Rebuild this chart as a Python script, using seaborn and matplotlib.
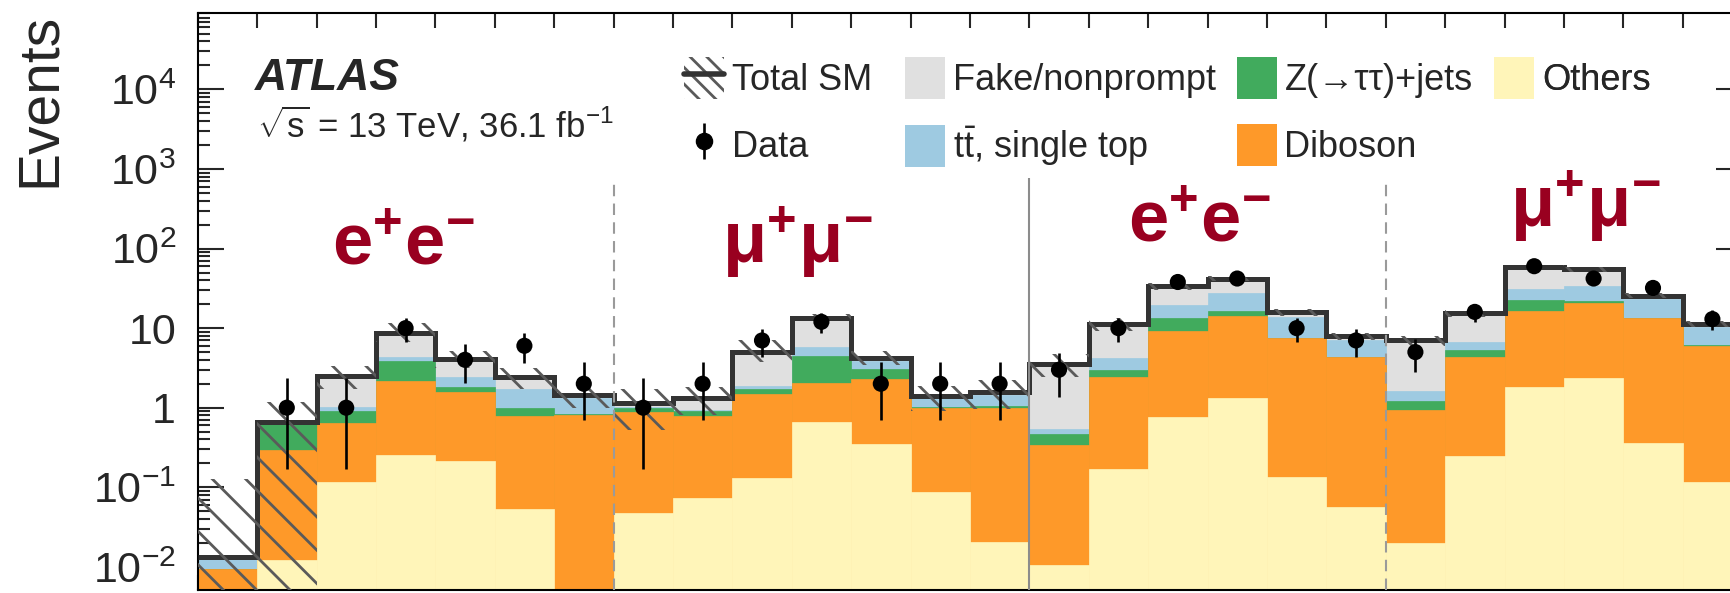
import numpy as np
import pandas as pd
import matplotlib
matplotlib.use("Agg")
import matplotlib.pyplot as plt
import seaborn as sns
from matplotlib.patches import Patch
from matplotlib.lines import Line2D
from matplotlib.legend_handler import HandlerTuple, HandlerLine2D
from matplotlib.transforms import blended_transform_factory

# ---------------------------------------------------------------- data ----
# 26 signal-region bins: e+e- (7) | mu+mu- (7) | e+e- (6) | mu+mu- (6)
others = [0.002, 0.0122, 0.1175, 0.254, 0.214, 0.0527, 0.002,
          0.047, 0.0725, 0.131, 0.654, 0.353, 0.087, 0.0205,
          0.0107, 0.17, 0.756, 1.31, 0.136, 0.057,
          0.0197, 0.247, 1.84, 2.36, 0.356, 0.117]
diboson = [0.0073, 0.282, 0.5185, 1.906, 1.376, 0.737, 0.808,
           0.843, 0.7175, 1.359, 1.376, 1.917, 0.893, 0.9795,
           0.3293, 2.28, 8.444, 12.89, 7.364, 4.233,
           0.9153, 4.133, 14.66, 18.14, 12.944, 5.883]
ztautau = [0.0, 0.351, 0.281, 1.70, 0.21, 0.19, 0.02,
           0.10, 0.13, 0.23, 2.42, 0.77, 0.04, 0.04,
           0.127, 0.53, 4.1, 2.4, 0.1, 0.03,
           0.275, 0.93, 6.1, 1.3, 0.1, 0.05]
top = [0.0031, 0.015, 0.103, 0.43, 0.65, 0.72, 0.50,
       0.04, 0.01, 0.17, 1.29, 0.78, 0.29, 0.40,
       0.073, 1.20, 6.2, 10.8, 6.3, 2.76,
       0.41, 1.44, 8.2, 12.0, 9.7, 4.15]
fake = [0.001, 0.01, 1.46, 4.31, 1.64, 0.72, 0.11,
        0.10, 0.38, 3.19, 7.56, 0.38, 0.09, 0.13,
        3.01, 7.12, 14.0, 14.4, 2.0, 0.82,
        5.38, 8.55, 27.2, 21.0, 2.5, 1.1]
# total SM uncertainty, upward and downward
sm_unc_up = [0.115, 0.52, 0.85, 3.0, 1.0, 0.75, 0.45,
             0.6, 0.5, 2.0, 1.8, 0.96, 0.5, 0.65,
             1.2, 2.1, 3.2, 3.2, 1.5, 0.9,
             1.0, 1.5, 4.0, 3.5, 2.0, 1.1]
sm_unc_dn = [0.0134, 0.67, 0.75, 2.0, 0.9, 0.7, 0.45,
             0.6, 0.5, 1.3, 1.8, 0.76, 0.5, 0.6,
             1.1, 2.1, 3.0, 3.0, 1.5, 0.9,
             1.0, 1.5, 4.0, 3.5, 2.0, 1.1]

data_n = [np.nan, 1, 1, 10, 4, 6, 2,
          1, 2, 7, 12, 2, 2, 2,
          3, 10, 38, 42, 10, 7,
          5, 16, 60, 42, 32, 13]
data_err_lo = [np.nan, 0.83, 0.83, 3.24, 1.94, 2.32, 1.29,
               0.83, 1.29, 2.62, 3.40, 1.29, 1.29, 1.29,
               1.63, 3.24, 6.1, 6.4, 3.24, 2.62,
               2.16, 3.9, 7.7, 6.4, 5.6, 3.5]
data_err_hi = [np.nan, 1.34, 1.34, 3.30, 2.31, 2.60, 1.74,
               1.34, 1.74, 2.67, 3.40, 1.74, 1.74, 1.74,
               1.91, 3.30, 6.5, 6.8, 3.30, 2.67,
               2.40, 4.2, 8.2, 6.8, 6.0, 3.8]

region_labels = [r"$\mathbf{e^{+}e^{-}}$", r"$\mathbf{\mu^{+}\mu^{-}}$",
                 r"$\mathbf{e^{+}e^{-}}$", r"$\mathbf{\mu^{+}\mu^{-}}$"]
process_labels = ["Fake/nonprompt", r"$\mathrm{t\bar{t}}$, single top",
                  "Z(→ττ)+jets", "Diboson", "Others"]
ytick_labels = [r"$\mathregular{10^{-2}}$", r"$\mathregular{10^{-1}}$", "1", "10",
                r"$\mathregular{10^{2}}$", r"$\mathregular{10^{3}}$",
                r"$\mathregular{10^{4}}$"]

# --------------------------------------------------------------- style ----
sns.set_style("ticks")
plt.rcParams["font.family"] = ["Liberation Sans", "DejaVu Sans"]
plt.rcParams["mathtext.fontset"] = "custom"
plt.rcParams["mathtext.rm"] = "Liberation Sans"
plt.rcParams["mathtext.it"] = "Liberation Sans:italic"
plt.rcParams["mathtext.bf"] = "Liberation Sans:bold"
plt.rcParams["mathtext.sf"] = "Liberation Sans"
plt.rcParams["hatch.linewidth"] = 2.0
plt.rcParams["hatch.color"] = "#5a5a5a"

col_fake = "#e0e0e0"
col_top = "#9ecae1"
col_ztt = "#41ab5d"
col_dib = "#fe9929"
col_oth = "#fff5b9"
col_region = "#990020"
col_sm = "#333333"
col_hatch = "#5a5a5a"

W, H = 1730, 593
fig = plt.figure(figsize=(W / 100, H / 100), dpi=100)
ax = fig.add_axes([197.7 / W, 3 / H, 1544.4 / W, 577 / H])
ax.set_yscale("log")

n_bins = len(data_n)
edges = np.arange(n_bins + 1)
centers = edges[:-1] + 0.5

stack = np.vstack([others, diboson, ztautau, top, fake])
cumulative = np.cumsum(stack, axis=0)
total = cumulative[-1]
colours = [col_oth, col_dib, col_ztt, col_top, col_fake]

# stacked backgrounds, painted from the full stack downwards
for level, colour in zip(cumulative[::-1], colours[::-1]):
    layer = pd.DataFrame({"bin": centers, "events": level})
    sns.histplot(data=layer, x="bin", weights="events", bins=list(edges),
                 element="bars", fill=True, color=colour, alpha=1,
                 edgecolor=colour, linewidth=0.5, ax=ax)

# total SM outline
ax.stairs(total, edges, baseline=None, color=col_sm, linewidth=3.6, zorder=4)

# total SM uncertainty band, hatched over the outline
band_lo = np.clip(total - np.asarray(sm_unc_dn), 1e-5, None)
band_hi = total + np.asarray(sm_unc_up)
ax.bar(edges[:-1], band_hi - band_lo, bottom=band_lo, width=1, align="edge",
       facecolor="none", edgecolor=col_hatch, linewidth=0, hatch="\\",
       zorder=4.5)

# region separators
ymin, ymax = 5.12e-3, 9.12e4
ax.vlines([7, 20], ymin, 780, colors="#9a9a9a", linewidth=1.5,
          linestyles=[(0, (5.5, 3.5))], zorder=5)
ax.vlines([14], ymin, 780, colors="#8c8c8c", linewidth=1.5, zorder=5)

# data with Poisson errors
dn = np.asarray(data_n, dtype=float)
ax.vlines(centers, dn - np.asarray(data_err_lo), dn + np.asarray(data_err_hi),
          colors="black", linewidth=1.9, zorder=6)
sns.scatterplot(x=centers, y=dn, color="black", s=135, edgecolor="none",
                zorder=7, ax=ax, legend=False)

# ---------------------------------------------------------------- axes ----
ax.set_xlim(0, n_bins)
ax.set_ylim(ymin, ymax)
ax.set_xlabel("")
ax.set_ylabel("")
ax.set_xticks(edges)
ax.tick_params(axis="x", which="major", direction="in", length=10.8, width=1.5,
               top=True, bottom=True, labelbottom=False)
ax.set_yticks([1e-2, 1e-1, 1, 10, 1e2, 1e3, 1e4])
ax.set_yticklabels(ytick_labels)
ax.yaxis.set_minor_locator(matplotlib.ticker.LogLocator(base=10, subs=np.arange(2, 10), numticks=30))
ax.yaxis.set_minor_formatter(matplotlib.ticker.NullFormatter())
ax.tick_params(axis="y", which="major", direction="in", length=18.5, width=1.5,
               left=True, right=True, pad=15.6, labelsize=31)
ax.tick_params(axis="y", which="minor", direction="in", length=8.6, width=1.5,
               left=True, right=True)
for s in ax.spines.values():
    s.set_linewidth(1.5)
    s.set_color("black")

fig.text(39.5 / W, 1 - 13 / H, "Events", rotation=90, ha="center", va="top",
         fontsize=41)

# ---------------------------------------------------------------- text ----
fig.text(255 / W, 1 - 90 / H, "ATLAS", fontsize=32, fontweight="bold",
         fontstyle="italic", va="baseline", ha="left")
fig.text(257 / W, 1 - 138 / H, r"$\sqrt{\mathrm{s}}$ = 13 TeV, 36.1 fb$^{-1}$",
         fontsize=25, va="baseline", ha="left")

tr = blended_transform_factory(ax.transData, fig.transFigure)
for lab, xc, ybase in zip(region_labels, [3.46, 10.1, 16.86, 23.36],
                          [265, 263, 241.7, 227]):
    ax.text(xc, 1 - ybase / H, lab, transform=tr, ha="center", va="baseline",
            fontsize=52, color=col_region)

# -------------------------------------------------------------- legend ----
eb = ax.errorbar([-5], [1], yerr=[[0.5], [0.5]], fmt="o", color="black",
                 markersize=11.6, elinewidth=1.9, capsize=0)
tot_handle = (Patch(facecolor="none", edgecolor=col_hatch, linewidth=0,
                    hatch="\\\\"),
              Line2D([], [], color=col_sm, linewidth=4.0))
proc_handles = [Patch(facecolor=c, edgecolor="none") for c in
                [col_fake, col_top, col_ztt, col_dib, col_oth]]

columns = [
    ([tot_handle, eb], ["Total SM", "Data"], 684),
    (proc_handles[0:2], process_labels[0:2], 905),
    (proc_handles[2:4], process_labels[2:4], 1236.5),
    (proc_handles[4:5], process_labels[4:5], 1494),
]
legend_kw = dict(loc="upper left", frameon=False, fontsize=26, borderpad=0,
                 borderaxespad=0, handlelength=1.108, handleheight=1.42,
                 handletextpad=0.22, labelspacing=0.69,
                 bbox_transform=fig.transFigure,
                 handler_map={tuple: HandlerTuple(ndivide=1, pad=0),
                              Line2D: HandlerLine2D(marker_pad=0)})
for handles, labels, xpx in columns:
    leg = ax.legend(handles, labels, bbox_to_anchor=(xpx / W, 1 - 57 / H),
                    **legend_kw)
    ax.add_artist(leg)

ax.set_xlim(0, n_bins)
ax.set_ylim(ymin, ymax)
fig.savefig("out.png", dpi=100)
